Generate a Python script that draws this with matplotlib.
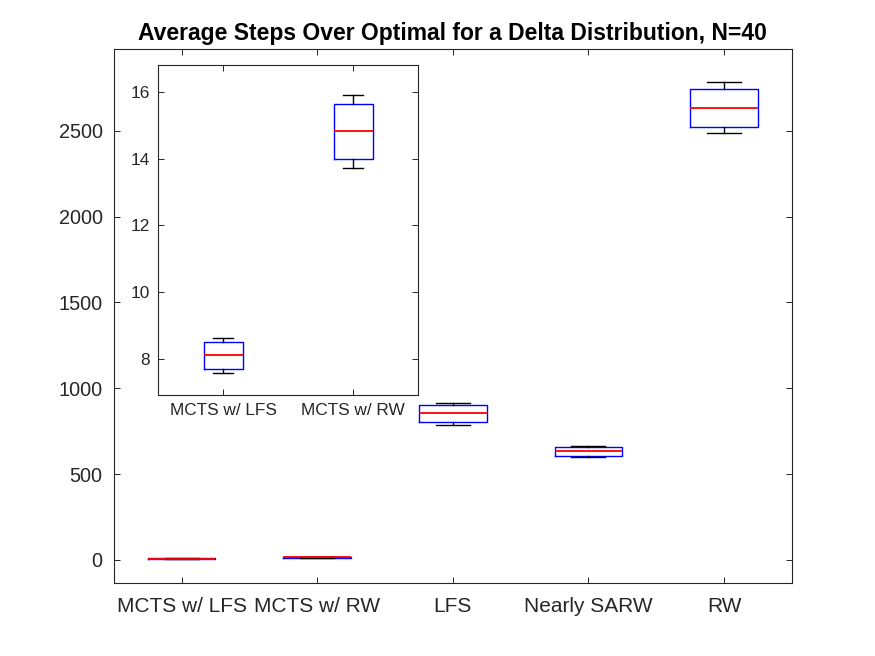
import matplotlib
matplotlib.use("Agg")
import matplotlib.pyplot as plt

plt.rcParams["font.family"] = ["Liberation Sans", "DejaVu Sans"]

# box statistics (whisker low, q1, median, q3, whisker high)
categories = ["MCTS w/ LFS", "MCTS w/ RW", "LFS", "Nearly SARW", "RW"]
whislo = [7.58, 13.72, 786, 598, 2489]
q1 = [7.70, 13.99, 801, 607, 2522]
med = [8.12, 14.84, 855, 633, 2633]
q3 = [8.51, 15.65, 901, 658, 2745]
whishi = [8.64, 15.91, 914, 666, 2784]

inset_idx = [0, 1]


def make_stats(idx):
    return [
        {"whislo": whislo[i], "q1": q1[i], "med": med[i], "q3": q3[i],
         "whishi": whishi[i], "fliers": [], "label": categories[i]}
        for i in idx
    ]


def draw(ax, stats, width):
    ax.bxp(
        stats, widths=width, showfliers=False,
        boxprops=dict(color="#0000ff", linewidth=1.0),
        medianprops=dict(color="#ff0000", linewidth=1.3, zorder=5),
        whiskerprops=dict(color="black", linewidth=1.0),
        capprops=dict(color="black", linewidth=1.0),
        capwidths=width / 2,
    )
    ax.tick_params(direction="in", top=True, right=True, length=4, width=0.7)
    for s in ax.spines.values():
        s.set_linewidth(0.8)
        s.set_color("#262626")


fig = plt.figure(figsize=(8.75, 6.56), dpi=100)

ax = fig.add_axes([0.13, 1 - 583.3 / 656, 0.775, 534 / 656])
draw(ax, make_stats(range(5)), 0.5)
ax.set_xlim(0.5, 5.5)
ax.set_ylim(-136, 2974)
ax.set_yticks([0, 500, 1000, 1500, 2000, 2500])
ax.tick_params(axis="x", labelsize=15, colors="#262626", pad=10)
ax.tick_params(axis="y", labelsize=14.3, colors="#262626", pad=8)
ax.set_title("Average Steps Over Optimal for a Delta Distribution, N=40",
             fontsize=16.5, fontweight="bold", pad=7)

# inset zoom on the two MCTS variants
axi = fig.add_axes([158 / 875, 1 - 395 / 656, 260 / 875, 330 / 656])
draw(axi, make_stats(inset_idx), 0.3)
axi.set_xlim(0.5, 2.5)
axi.set_ylim(6.92, 16.81)
axi.set_yticks([8, 10, 12, 14, 16])
axi.tick_params(labelsize=12.4, colors="#262626", pad=6)

fig.savefig("out.png", dpi=100)
